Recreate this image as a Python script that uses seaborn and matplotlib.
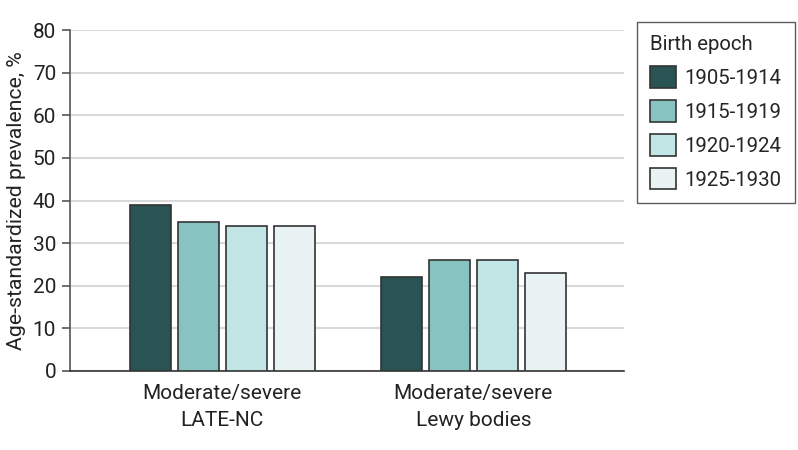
import matplotlib
matplotlib.use("Agg")
import matplotlib.pyplot as plt
import seaborn as sns
import pandas as pd

categories = ["Moderate/severe\nLATE-NC", "Moderate/severe\nLewy bodies"]
epochs = ["1905-1914", "1915-1919", "1920-1924", "1925-1930"]
late_nc = [39, 35, 34, 34]
lewy = [22, 26, 26, 23]
colors = ["#2a5453", "#86c3c1", "#c2e6e5", "#e9f3f4"]

df = pd.DataFrame({
    "category": [categories[0]] * 4 + [categories[1]] * 4,
    "epoch": epochs * 2,
    "value": late_nc + lewy,
})

sns.set_style("white")
plt.rcParams["font.family"] = ["Roboto", "DejaVu Sans"]

fig = plt.figure(figsize=(7.98, 4.5), dpi=100)
ax = fig.add_axes([0.0877, 0.1756, 0.782 - 0.0877, 0.933 - 0.1756])

sns.barplot(data=df, x="category", y="value", hue="epoch", palette=colors,
            saturation=1, width=0.765, gap=0.146, edgecolor="#333333",
            linewidth=1.2, errorbar=None, ax=ax, zorder=3)

ax.set_ylim(0, 80)
ax.set_xlim(-0.606, 1.60)
ax.set_yticks(range(0, 81, 10))
ax.yaxis.grid(True, color="#d9d9d9", linewidth=1.5, zorder=0)
ax.set_axisbelow(True)
for s in ["top", "right"]:
    ax.spines[s].set_visible(False)
ax.spines["left"].set_color("#555555")
ax.spines["bottom"].set_color("#333333")
ax.spines["left"].set_linewidth(1.2)
ax.spines["bottom"].set_linewidth(1.2)
ax.tick_params(axis="y", which="both", left=True, length=6, width=1.2,
               color="#555555", labelsize=15, pad=4, labelcolor="#222222")
ax.tick_params(axis="x", bottom=False, labelsize=15, pad=6,
               labelcolor="#222222")
for lab in ax.get_xticklabels():
    lab.set_linespacing(1.5)
ax.set_xlabel("")
ax.set_ylabel("Age-standardized prevalence, %", fontsize=15.3, labelpad=5,
              color="#222222")

leg = ax.legend(title="Birth epoch", loc="upper left",
                bbox_to_anchor=(1.023, 1.025), borderaxespad=0,
                frameon=True, fancybox=False,
                edgecolor="#333333", fontsize=14.7, title_fontsize=14.7,
                handlelength=1.25, handleheight=1.25, handletextpad=0.45,
                labelspacing=0.6, borderpad=0.65)
leg._legend_box.align = "left"
leg.get_frame().set_linewidth(1.0)

fig.savefig("out.png", dpi=100)
